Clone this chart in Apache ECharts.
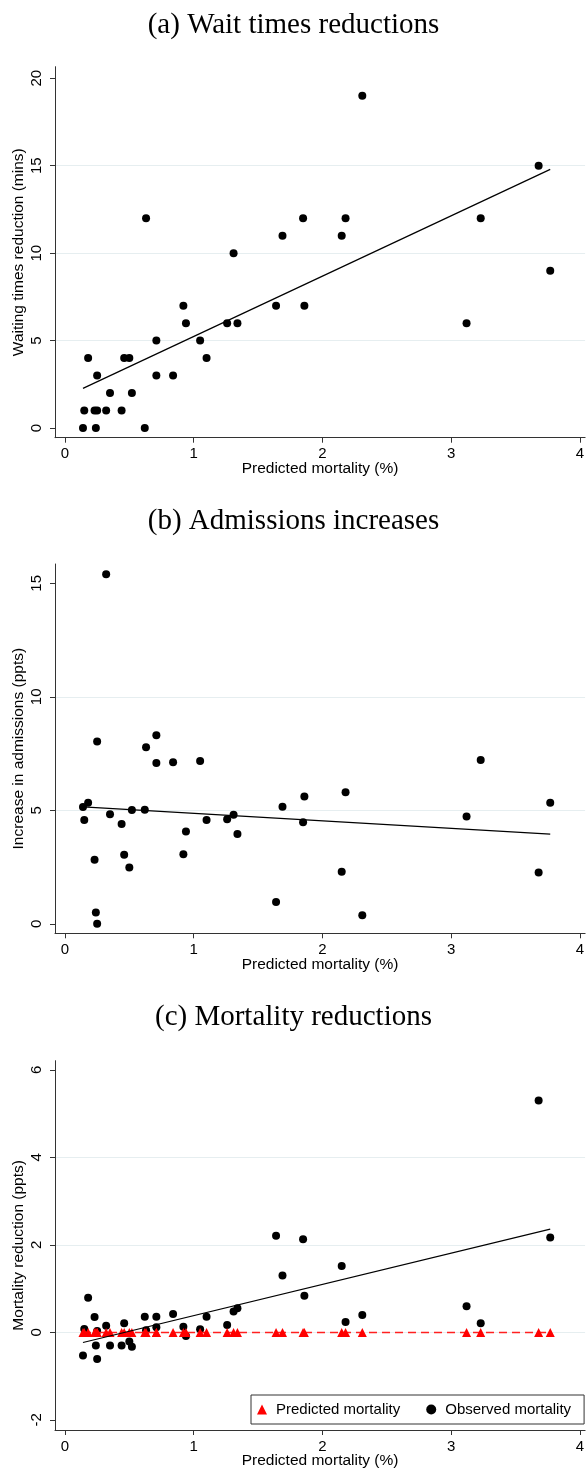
<!DOCTYPE html>
<html>
<head>
<meta charset="utf-8">
<script src="https://cdn.jsdelivr.net/npm/echarts@6/dist/echarts.min.js"></script>
<style>
html,body{margin:0;padding:0;background:#fff;}
#chart{width:587px;height:1475px;}
</style>
</head>
<body>
<div id="chart"></div>
<script>
// Predicted mortality (%) per hospital (x values, shared by all panels)
const predictedMortality = [0.14,0.15,0.18,0.23,0.24,0.25,0.25,0.32,0.35,0.44,0.46,0.50,0.52,0.62,0.63,0.71,0.71,0.84,0.92,0.94,1.05,1.10,1.26,1.31,1.34,1.64,1.69,1.85,1.86,2.15,2.18,2.31,3.12,3.23,3.68,3.77];
// (a) Waiting times reduction (mins)
const waitReduction = [0,1,4,1,0,1,3,1,2,1,4,4,2,0,12,3,5,3,7,6,5,4,6,10,6,7,11,12,7,11,12,19,6,12,15,9];
// (b) Increase in admissions (ppts)
const admitIncrease = [5.14,4.57,5.33,2.82,0.50,8.03,0.00,15.4,4.82,4.39,3.04,2.48,5.01,5.02,7.78,7.08,8.31,7.12,3.06,4.07,7.17,4.57,4.61,4.80,3.95,0.96,5.15,4.47,5.61,2.29,5.79,0.38,4.73,7.21,2.26,5.33];
// (c) Observed mortality reduction (ppts)
const observedMortality = [-0.53,0.08,0.79,0.35,-0.30,0.03,-0.61,0.15,-0.30,-0.30,0.21,-0.21,-0.33,0.36,0.05,0.36,0.12,0.42,0.13,-0.08,0.07,0.36,0.17,0.48,0.55,2.21,1.30,2.13,0.84,1.52,0.24,0.40,0.60,0.21,5.30,2.17];
// (c) Predicted mortality reduction (ppts)
const predictedReduction = [0,0,0,0,0,0,0,0,0,0,0,0,0,0,0,0,0,0,0,0,0,0,0,0,0,0,0,0,0,0,0,0,0,0,0,0];
// Linear fit end points
const fitX = [0.14, 3.77];
const fitWait = [2.27, 14.79];
const fitAdmit = [5.15, 3.95];
const fitMort = [-0.23, 2.36];
// Tick labels
const xTicks = [0,1,2,3,4];
const yTicksA = [0,5,10,15,20];
const yTicksB = [0,5,10,15];
const yTicksC = [-2,0,2,4,6];
const titles = ['(a) Wait times reductions','(b) Admissions increases','(c) Mortality reductions'];
const yNames = ['Waiting times reduction (mins)','Increase in admissions (ppts)','Mortality reduction (ppts)'];
const xName = 'Predicted mortality (%)';

const zip = (xs, ys) => xs.map((x, i) => [x, ys[i]]);
const SANS = 'Liberation Sans, Arial, Helvetica, sans-serif';
const SERIF = 'Liberation Serif, Times New Roman, serif';
const AXIS_COLOR = '#333';
const GRID_COLOR = '#e6eef0';

const panels = [
  {top: 66.7, height: 371, ymin: -0.55, ymax: 20.66, step: 5, ticks: yTicksA, titleTop: 4},
  {top: 564, height: 369.3, ymin: -0.42, ymax: 15.85, step: 5, ticks: yTicksB, titleTop: 500},
  {top: 1060.7, height: 369.3, ymin: -2.23, ymax: 6.21, step: 2, ticks: yTicksC, titleTop: 996}
];

const grid = [], xAxis = [], yAxis = [], title = [];
panels.forEach((p, i) => {
  grid.push({left: 55, top: p.top, width: 532, height: p.height, containLabel: false});
  title.push({
    text: titles[i], left: 'center', top: p.titleTop,
    textStyle: {fontFamily: SERIF, fontSize: 29, fontWeight: 'normal', color: '#000', lineHeight: 32}
  });
  xAxis.push({
    type: 'value', gridIndex: i, min: -0.0774, max: 4.041, minInterval: 1, maxInterval: 1,
    name: xName, nameLocation: 'middle', nameGap: 23, nameMoveOverlap: false,
    nameTextStyle: {fontFamily: SANS, fontSize: 15.5, color: '#000'},
    axisLine: {show: true, onZero: false, lineStyle: {color: AXIS_COLOR, width: 1}},
    axisTick: {show: true, length: 5, customValues: xTicks, lineStyle: {color: AXIS_COLOR}},
    axisLabel: {customValues: xTicks, margin: 9, fontFamily: SANS, fontSize: 15, color: '#000'},
    splitLine: {show: false}
  });
  yAxis.push({
    type: 'value', gridIndex: i, min: p.ymin, max: p.ymax, minInterval: p.step, maxInterval: p.step,
    name: yNames[i], nameLocation: 'middle', nameGap: 28, nameRotate: 90, nameMoveOverlap: false,
    nameTextStyle: {fontFamily: SANS, fontSize: 15.5, color: '#000'},
    axisLine: {show: true, onZero: false, lineStyle: {color: AXIS_COLOR, width: 1}},
    axisTick: {show: true, length: 5, customValues: p.ticks, lineStyle: {color: AXIS_COLOR}},
    axisLabel: {customValues: p.ticks, rotate: 90, margin: 11, fontFamily: SANS, fontSize: 15, color: '#000'},
    splitLine: {show: true, showMinLine: false, showMaxLine: false, lineStyle: {color: GRID_COLOR, width: 1}}
  });
});

const dot = (name, idx, ys) => ({
  name, type: 'scatter', xAxisIndex: idx, yAxisIndex: idx,
  data: zip(predictedMortality, ys), symbol: 'circle', symbolSize: 8,
  itemStyle: {color: '#000', opacity: 1}, z: 3
});
const fit = (idx, ys) => ({
  type: 'line', xAxisIndex: idx, yAxisIndex: idx, data: zip(fitX, ys),
  showSymbol: false, symbol: 'none', lineStyle: {color: '#000', width: 1.2}, z: 5, silent: true
});

const series = [
  dot('Wait times', 0, waitReduction), fit(0, fitWait),
  dot('Admissions', 1, admitIncrease), fit(1, fitAdmit),
  dot('Observed mortality', 2, observedMortality),
  {type: 'line', xAxisIndex: 2, yAxisIndex: 2, data: zip(predictedMortality, predictedReduction),
   showSymbol: false, symbol: 'none', lineStyle: {color: '#ff2020', width: 1.5, type: [8, 5]}, z: 4, silent: true},
  {name: 'Predicted mortality', type: 'scatter', xAxisIndex: 2, yAxisIndex: 2,
   data: zip(predictedMortality, predictedReduction), symbol: 'triangle', symbolSize: 9,
   itemStyle: {color: '#ff0000', opacity: 1}, z: 4},
  fit(2, fitMort)
];

const chart = echarts.init(document.getElementById('chart'), null, {renderer: 'canvas'});
chart.setOption({
  animation: false,
  backgroundColor: '#fff',
  title, grid, xAxis, yAxis, series,
  legend: {
    left: 251, top: 1395, orient: 'horizontal',
    data: [{name: 'Predicted mortality', icon: 'triangle'}, {name: 'Observed mortality', icon: 'circle'}],
    itemWidth: 10, itemHeight: 10, itemGap: 26,
    padding: [7, 13, 7, 6],
    borderColor: '#333', borderWidth: 1, backgroundColor: '#fff',
    textStyle: {fontFamily: SANS, fontSize: 15, color: '#000', padding: [0, 0, 0, 4]},
    selectedMode: false
  }
});
</script>
</body>
</html>
